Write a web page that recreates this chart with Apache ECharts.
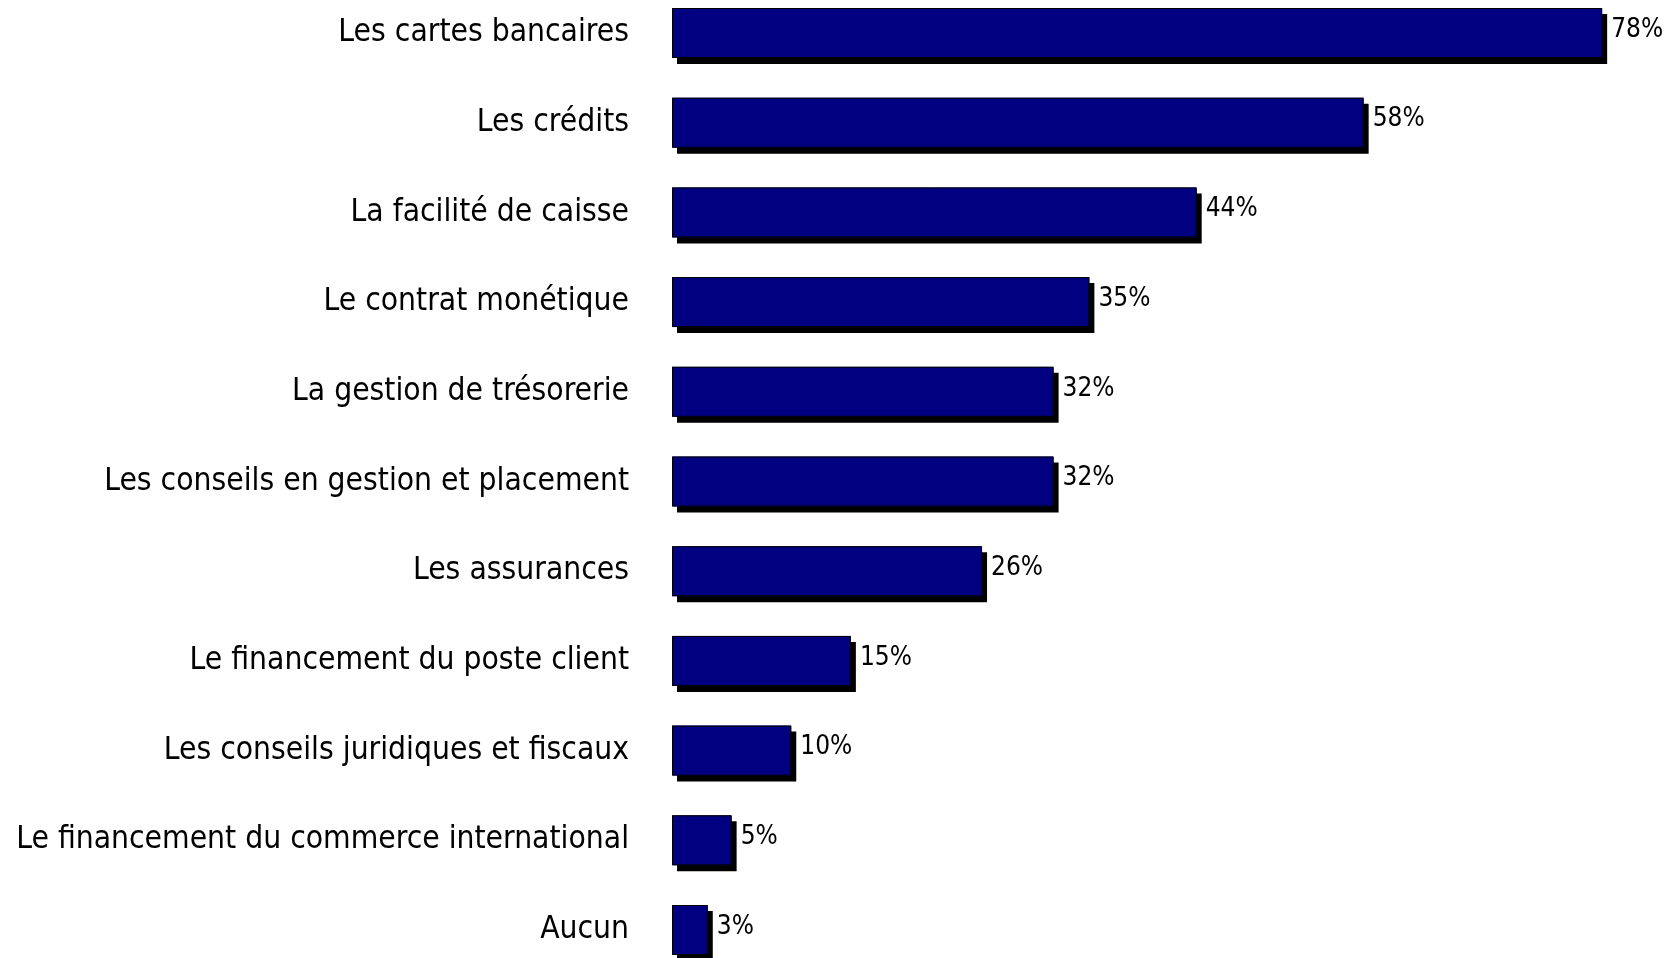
<!DOCTYPE html>
<html>
<head>
<meta charset="utf-8">
<script src="https://cdn.jsdelivr.net/npm/echarts@6/dist/echarts.min.js"></script>
<style>
  html, body { margin: 0; padding: 0; background: #fff; }
  #chart { width: 1667px; height: 958px; }
</style>
</head>
<body>
<div id="chart"></div>
<script>
// categories, top to bottom
const categories = [
  'Les cartes bancaires',
  'Les crédits',
  'La facilité de caisse',
  'Le contrat monétique',
  'La gestion de trésorerie',
  'Les conseils en gestion et placement',
  'Les assurances',
  'Le financement du poste client',
  'Les conseils juridiques et fiscaux',
  'Le financement du commerce international',
  'Aucun'
]
// percentages
const values = [78, 58, 44, 35, 32, 32, 26, 15, 10, 5, 3]

const chart = echarts.init(document.getElementById('chart'))

chart.setOption({
  animation: false,
  grid: {
    left: 672,
    width: 954,
    top: 33,
    bottom: 28
  },
  xAxis: {
    type: 'value',
    min: 0,
    max: 80,
    show: false
  },
  yAxis: {
    type: 'category',
    data: categories,
    inverse: true,
    boundaryGap: false,
    axisLine: { show: false },
    axisTick: { show: false },
    axisLabel: {
      margin: 43,
      color: '#000',
      fontFamily: 'DejaVu Sans Condensed, DejaVu Sans',
      fontSize: 31.5
    }
  },
  series: [
    // filled bars with the drop shadow
    {
      type: 'bar',
      data: values,
      barWidth: 50,
      barGap: '-100%',
      itemStyle: {
        color: '#000080',
        shadowColor: '#000',
        shadowOffsetX: 5,
        shadowOffsetY: 6,
        shadowBlur: 0
      },
      label: {
        show: true,
        position: 'right',
        distance: 9,
        offset: [0, -3],
        formatter: '{c}%',
        color: '#000',
        fontFamily: 'DejaVu Sans Condensed, DejaVu Sans',
        fontSize: 26
      }
    },
    // thin outline on top, no shadow
    {
      type: 'bar',
      data: values,
      barWidth: 50,
      barGap: '-100%',
      silent: true,
      itemStyle: {
        color: 'rgba(0,0,0,0)',
        borderColor: '#000',
        borderWidth: 1
      }
    }
  ]
})
</script>
</body>
</html>
